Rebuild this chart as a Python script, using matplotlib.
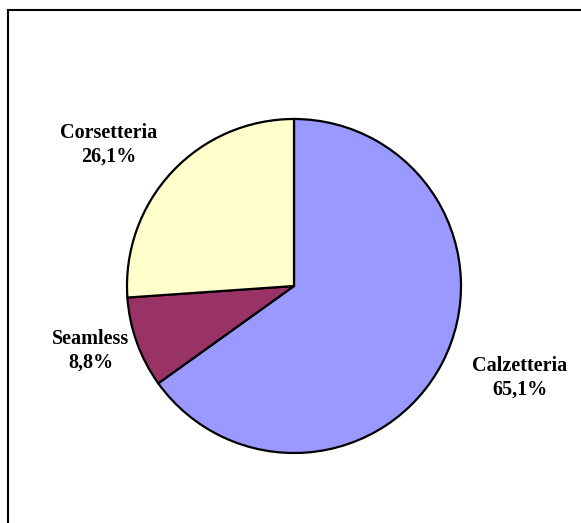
import matplotlib.pyplot as plt

# data
categories = ["Calzetteria", "Seamless", "Corsetteria"]
shares = [65.1, 8.8, 26.1]
colors = ["#9999FF", "#993366", "#FFFFCC"]

W, H = 581, 523
fig = plt.figure(figsize=(W / 100, H / 100), dpi=100)
ax = fig.add_axes([0, 0, 1, 1])

# pie in pixel coordinates (centre and radius)
cx, cy, r = 294, H - 286, 167
ax.pie(shares, colors=colors, startangle=90, counterclock=False,
       center=(cx, cy), radius=r, frame=True,
       wedgeprops=dict(edgecolor="black", linewidth=1.6))
ax.set_xlim(0, W)
ax.set_ylim(0, H)
ax.set_aspect("equal")
ax.axis("off")

# label positions (pixels)
label_pos = [(520, H - 378), (91, H - 351), (109, H - 145)]
for name, val, (x, y) in zip(categories, shares, label_pos):
    txt = name + "\n" + f"{val:.1f}".replace(".", ",") + "%"
    ax.text(x, y, txt, ha="center", va="center", fontsize=14.5,
            family="Liberation Serif", fontweight="bold", linespacing=1.25)

# chart-area border (only top and left edges are inside the picture)
ax.plot([8, W + 5], [H - 10, H - 10], color="black", lw=1.5, clip_on=False)
ax.plot([8, 8], [-5, H - 10], color="black", lw=1.5, clip_on=False)

fig.savefig("out.png", dpi=100)
